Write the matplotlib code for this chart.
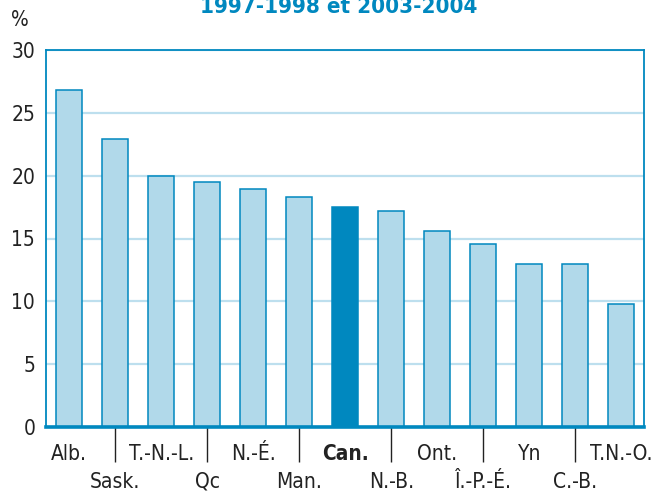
import matplotlib
matplotlib.use('Agg')
import matplotlib.pyplot as plt

# Data
provinces = ['Alb.', 'Sask.', 'T.-N.-L.', 'Qc', 'N.-É.', 'Man.', 'Can.',
             'N.-B.', 'Ont.', 'Î.-P.-É.', 'Yn', 'C.-B.', 'T.N.-O.']
values = [26.8, 22.9, 20.0, 19.5, 18.9, 18.3, 17.5,
          17.2, 15.6, 14.6, 13.0, 13.0, 9.8]
title = '1997-1998 et 2003-2004'

blue = '#0088bf'
light = '#b1d9ea'
grid_col = '#bddfee'

plt.rcParams['font.family'] = ['DejaVu Sans']
plt.rcParams['font.stretch'] = 'condensed'
plt.rcParams['font.size'] = 15

W, H = 655, 491
fig = plt.figure(figsize=(W / 100, H / 100), dpi=100)
left, right, top, bottom = 46.3, 644.3, 49.7, 427.3
ax = fig.add_axes([left / W, (H - bottom) / H, (right - left) / W,
                   (bottom - top) / H])

x = list(range(len(provinces)))
colors = [blue if p == 'Can.' else light for p in provinces]
ax.bar(x, values, width=0.57, color=colors, edgecolor=blue, linewidth=1.1,
       zorder=3)

ax.set_xlim(-0.5, len(provinces) - 0.5)
ax.set_ylim(0, 30)
ax.set_yticks(range(0, 31, 5))
ax.yaxis.grid(True, color=grid_col, linewidth=1.6, zorder=0)
ax.set_axisbelow(True)

for side in ['left', 'right', 'top']:
    ax.spines[side].set_color(blue)
    ax.spines[side].set_linewidth(1.3)
ax.spines['bottom'].set_color(blue)
ax.spines['bottom'].set_linewidth(2.6)
ax.spines['bottom'].set_zorder(4)

ax.tick_params(axis='y', length=0, pad=8, labelsize=15, colors='#222222')

# two rows of labels: even index on the upper row, odd on the lower one
ax.set_xticks(x[0::2])
ax.set_xticklabels(provinces[0::2])
ax.set_xticks(x[1::2], minor=True)
ax.set_xticklabels(provinces[1::2], minor=True)
ax.tick_params(axis='x', which='major', length=0, pad=12, labelsize=15,
               colors='#222222')
ax.tick_params(axis='x', which='minor', length=25, width=1.0, pad=7,
               labelsize=15, color='#222222', labelcolor='#222222')
for lab in ax.get_xticklabels():
    if lab.get_text() == 'Can.':
        lab.set_fontweight('bold')

fig.text(20 / W, 1 - 20 / H, '%', ha='center', va='center', fontsize=15,
         color='#222222')
# title sits partly above the top edge, as in the source
fig.text(339 / W, 1 - 13 / H, title, ha='center', va='baseline',
         fontsize=16, fontweight='bold', color=blue)

fig.savefig('out.png', dpi=100)
